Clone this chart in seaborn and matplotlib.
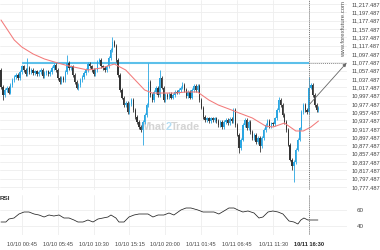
import matplotlib
matplotlib.use("Agg")
import matplotlib.pyplot as plt
import seaborn as sns
import numpy as np

# ---------------- data ----------------
first_open = 11059
closes = [
    11018, 10999, 11011, 11016, 11004, 11023, 11035, 11042, 11047, 11040,
    11054, 11068, 11059, 11049, 11064, 11054, 11059, 11052, 11056, 11049,
    11054, 11059, 11044, 11052, 11056, 11049, 11054, 11064, 11071, 11059,
    11040, 11030, 11040, 11035, 11054, 11076, 11064, 11068, 11047, 11030,
    11016, 11023, 11035, 11042, 11052, 11059, 11073, 11068, 11059, 11049,
    11059, 11078, 11083, 11068, 11064, 11059, 11068, 11088, 11107, 11126,
    11117, 11083, 11047, 11011, 10992, 10975, 10980, 10958, 10977, 10987,
    10963, 10946, 10934, 10922, 10915, 10934, 10951, 10975, 11030, 10999,
    10987, 11006, 11016, 10999, 11040, 11016, 10987, 10999, 10994, 11001,
    10992, 10999, 11006, 11004, 11011, 11016, 11023, 11011, 10996, 11006,
    10992, 11011, 11020, 11011, 11020, 10987, 10968, 10946, 10939, 10943,
    10936, 10943, 10939, 10943, 10936, 10927, 10934, 10922, 10934, 10939,
    10931, 10941, 10936, 10963, 10927, 10903, 10871, 10891, 10927, 10939,
    10919, 10934, 10910, 10895, 10903, 10886, 10895, 10876, 10895, 10915,
    10927, 10936, 10924, 10931, 10929, 10943, 10963, 10987, 10975, 10951,
    10934, 10915, 10879, 10843, 10828, 10838, 10867, 10891, 10919, 10958,
    10975, 10963, 10958, 11016, 11023, 10999, 10975, 10963, 10968,
]
# notable wick extremes (candle index -> price)
high_marks = {14: 11088, 35: 11095, 59: 11138, 78: 11076, 84: 11059,
              96: 11030, 147: 10994, 163: 11042}
low_marks = {1: 10987, 41: 11011, 75: 10878, 126: 10859, 137: 10861,
             154: 10818, 155: 10790}
wick_size = 4

ma_idx = [0, 7, 11, 17, 23, 30, 36, 41, 46, 53, 60, 66, 71, 76, 80, 86, 92,
          98, 104, 110, 115, 122, 126, 133, 140, 144, 150, 156, 160, 164, 168]
ma_val = [11179.0, 11131.0, 11114.1, 11097.3, 11085.3, 11075.7, 11068.4,
          11063.6, 11058.8, 11063.6, 11073.2, 11058.8, 11034.8, 11010.8,
          11003.5, 11003.5, 11003.5, 11006.0, 11006.0, 10986.7, 10974.7,
          10962.7, 10955.5, 10943.5, 10924.2, 10921.8, 10931.4, 10912.3,
          10912.3, 10921.8, 10936.2]

rsi_idx = [0, 2.6, 4.2, 6.9, 9.5, 12.2, 14.8, 17.5, 20.1, 22.8, 25.4, 28,
           30.7, 33.3, 36, 38.6, 40.7, 43.4, 46, 48.7, 51.3, 54, 56.6, 58.2,
           60.8, 62.4, 65.1, 67.7, 70.4, 73, 77.8, 80.4, 83.1, 86.2, 88.9,
           91.5, 95.2, 97.9, 100.5, 104.2, 106.9, 109.5, 112.7, 115.3, 118,
           120.6, 123.3, 125.4, 128, 130.7, 133.9, 136.5, 138.6, 141.3,
           143.9, 146.6, 149.2, 152.4, 155, 157.1, 158.7, 160.3, 162.4, 167.7]
rsi_val = [45, 45, 48.75, 50, 55, 57.5, 57.5, 55, 53.75, 51.25, 53.75, 52.5,
           53.75, 50, 50, 47.5, 45, 45, 47.5, 45, 48.75, 50, 51.25, 53.75,
           50, 45, 45, 51.25, 53.75, 55, 55, 51.25, 53.75, 53.75, 56.25,
           53.75, 60, 62.5, 62.5, 60, 57.5, 57.5, 57.5, 55, 58.75, 62.5,
           62.5, 60, 57.5, 58.75, 56.25, 50, 51.25, 57.5, 58.75, 57.5, 55,
           46.25, 45, 42.5, 47.5, 50, 47.5, 47.5]

level = 11075.5
level_start = 11
now_idx = 163
arrow_from = 10975

price_ticks = [10777.487 + 20 * k for k in range(23)]
rsi_ticks = [40, 60]
xtick_idx = [11, 30, 49, 68, 87, 106, 125, 144, 163]
xtick_lab = ["10/10 00:45", "10/10 05:45", "10/10 10:30", "10/10 15:15",
             "10/10 20:00", "10/11 01:45", "10/11 06:45", "10/11 11:30",
             "10/11 16:30"]

# ---------------- style ----------------
sns.set_theme(style="white")
plt.rcParams["font.family"] = ["Liberation Sans", "DejaVu Sans"]

UP = "#2aa6e2"
DOWN = "#353535"
GRID = "#eeeeee"
TXT = "#444444"

fig = plt.figure(figsize=(3.8, 2.5), dpi=100)
W = 347 / 380
ax = fig.add_axes([0, 0.24, W, 0.76])
axr = fig.add_axes([0, 15 / 250, W, 40 / 250])

n = len(closes)
idx = np.arange(n)
opens = np.array([first_open] + closes[:-1], dtype=float)
cl = np.array(closes, dtype=float)
top = np.maximum(opens, cl)
bot = np.minimum(opens, cl)
highs = top + wick_size
lows = bot - wick_size
for k, v in high_marks.items():
    highs[k] = v
for k, v in low_marks.items():
    lows[k] = v
colors = [UP if c >= o else DOWN for o, c in zip(opens, cl)]

xlim = (-0.53, 183.1)

# grids
for a in (ax, axr):
    for s in a.spines.values():
        s.set_visible(False)
    a.set_xlim(*xlim)
    for t in xtick_idx:
        a.axvline(t, color=GRID, lw=0.6, zorder=0)
for p in price_ticks:
    ax.axhline(p, color=GRID, lw=0.6, zorder=0)
for r in rsi_ticks:
    axr.axhline(r, color=GRID, lw=0.6, zorder=0)

# watermark
wx = 0.478
ax.text(wx, 0.33, "What", transform=ax.transAxes, ha="right", va="center",
        fontsize=7.8, fontweight="bold", color="#d4d4d4", zorder=1)
ax.text(wx, 0.33, "2", transform=ax.transAxes, ha="left", va="center",
        fontsize=7.8, fontweight="bold", color="#b3dcf2", zorder=1)
ax.text(wx + 4.8 / 347, 0.33, "Trade", transform=ax.transAxes, ha="left",
        va="center", fontsize=7.8, fontweight="bold", color="#d4d4d4", zorder=1)

# level line
ax.hlines(level, level_start, now_idx, color="#5cc0ea", lw=1.5, zorder=2)
ax.hlines(level, now_idx, xlim[1], color="#888888", lw=0.7, ls=(0, (1, 1)), zorder=2)

# candles
ax.vlines(idx, lows, highs, colors=colors, lw=0.6, zorder=3)
ax.bar(idx, np.maximum(top - bot, 1.5), bottom=bot, width=0.7, color=colors,
       linewidth=0, zorder=3)

# moving average
sns.lineplot(x=ma_idx, y=ma_val, ax=ax, color="#f37a7a", lw=0.75, zorder=4)

# now line & arrow
ax.axvline(now_idx, color="#777777", lw=0.7, ls=(0, (1, 1)), zorder=5)
axr.axvline(now_idx, color="#777777", lw=0.7, ls=(0, (1, 1)), zorder=5)
ax.annotate("", xy=(xlim[1] - 0.3, level), xytext=(now_idx, arrow_from),
            arrowprops=dict(arrowstyle="-|>", color="#666666", lw=0.6,
                            mutation_scale=5, shrinkA=0, shrinkB=0), zorder=6)

ax.set_ylim(10770.4, 11227.1)
ax.yaxis.tick_right()
ax.set_yticks(price_ticks)
ax.set_yticklabels([f"{v:,.3f}" for v in price_ticks])
ax.tick_params(axis="y", length=0, pad=3, labelsize=4.15, labelcolor=TXT)
ax.set_xticks([])
ax.set_xlabel("")
ax.set_ylabel("")

ax.text(1.0 - 3.0 / 347, 0.995, "www.forexfuture.com", transform=ax.transAxes,
        rotation=90, ha="center", va="top", fontsize=4.3, color="#555555")

# RSI
sns.lineplot(x=rsi_idx, y=rsi_val, ax=axr, color="#222222", lw=0.55)
axr.set_ylim(28.75, 78.75)
axr.yaxis.tick_right()
axr.set_yticks(rsi_ticks)
axr.set_yticklabels([str(v) for v in rsi_ticks])
axr.tick_params(axis="y", length=0, pad=7, labelsize=4.5, labelcolor=TXT)
axr.set_xticks(xtick_idx)
axr.set_xticklabels(xtick_lab)
axr.tick_params(axis="x", length=0, pad=5, labelsize=4.1, labelcolor=TXT)
axr.get_xticklabels()[-1].set_fontweight("bold")
axr.get_xticklabels()[-1].set_color("#222222")
axr.set_xlabel("")
axr.set_ylabel("")
axr.text(0.0, 0.9, "RSI", transform=axr.transAxes, ha="left", va="center",
         fontsize=4.6, fontweight="bold", color="#333333")

fig.savefig("out.png", dpi=100)
